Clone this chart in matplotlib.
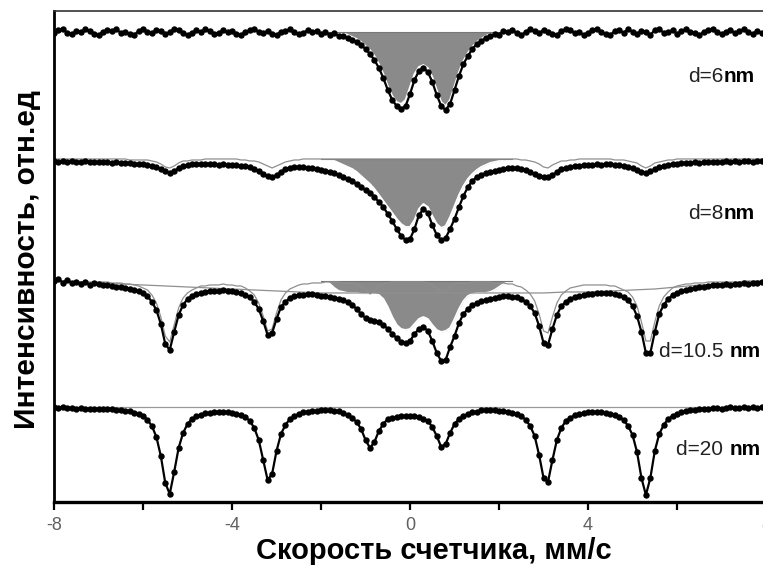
import matplotlib
matplotlib.use("Agg")
import matplotlib.pyplot as plt
import numpy as np

# Mössbauer spectra of nanoparticles, relative intensity (baseline = 1000)
vel = np.round(np.linspace(-8.0, 8.0, 161), 1)      # mm/s, channel velocities
vel_fill = np.round(np.linspace(-2.0, 2.3, 44), 1)  # range of the doublet component
vel_coarse = np.linspace(-8.0, 8.0, 33)

sizes = ['6', '8', '10.5', '20']
label_sep = ['', '', ' ', ' ']

# measured spectra (rows of 10 points: -8.0..-7.1, -7.0..-6.1, ...)
spec_6 = [
    999, 1002, 1003, 999, 998, 1001, 1000, 1003, 1001, 998,
    997, 1000, 1002, 1001, 1003, 999, 1000, 998, 997, 1001,
    1003, 1000, 999, 1002, 1001, 998, 1000, 1003, 1002, 999,
    997, 999, 1002, 1000, 1003, 1001, 998, 999, 1002, 1000,
    1001, 998, 997, 1000, 1002, 1003, 1000, 999, 1001, 998,
    997, 1000, 1001, 1003, 1000, 998, 999, 1002, 1000, 1001,
    998, 1000, 997, 999, 996, 996, 994, 992, 990, 987,
    983, 978, 972, 964, 954, 942, 932, 926, 923, 926,
    938, 952, 961, 964, 960, 950, 937, 926, 922, 928,
    942, 956, 968, 976, 983, 988, 991, 994, 996, 998,
    997, 1001, 1000, 1002, 999, 997, 1000, 1003, 1001, 999,
    1002, 1000, 998, 997, 1001, 1003, 1002, 999, 1000, 997,
    999, 1002, 1003, 1000, 998, 997, 1001, 1002, 999, 1003,
    1000, 998, 1001, 1000, 997, 1002, 1003, 999, 1000, 1002,
    998, 1001, 1003, 1000, 999, 997, 1000, 1002, 1003, 1000,
    998, 1000, 1002, 999, 1001, 1003, 1000, 998, 1001, 999, 1000,
]
spec_8 = [
    998, 997, 998, 997, 998, 997, 997, 998, 997, 997,
    997, 997, 997, 996, 997, 996, 996, 996, 995, 995,
    995, 994, 993, 992, 990, 988, 986, 988, 991, 993,
    994, 995, 995, 995, 995, 995, 995, 994, 995, 994,
    994, 994, 993, 993, 992, 990, 988, 985, 983, 982,
    984, 987, 990, 991, 992, 992, 992, 991, 991, 990,
    989, 988, 987, 986, 984, 982, 980, 978, 975, 972,
    969, 966, 962, 957, 952, 945, 938, 930, 923, 919,
    920, 930, 944, 950, 946, 934, 924, 919, 921, 930,
    940, 952, 963, 972, 978, 982, 984, 986, 987, 988,
    989, 990, 991, 991, 991, 990, 989, 987, 985, 983,
    982, 982, 984, 987, 990, 991, 992, 993, 993, 994,
    994, 994, 995, 994, 995, 995, 994, 994, 993, 992,
    991, 989, 987, 986, 988, 990, 992, 993, 994, 995,
    995, 996, 996, 996, 997, 996, 997, 997, 997, 997,
    997, 998, 997, 998, 997, 998, 998, 997, 998, 998, 998,
]
spec_105 = [
    1000, 1002, 998, 1001, 998, 999, 997, 999, 996, 998,
    997, 996, 996, 995, 994, 994, 993, 992, 991, 990,
    988, 985, 979, 971, 957, 937, 931, 949, 966, 976,
    982, 985, 987, 988, 989, 990, 990, 990, 991, 990,
    990, 989, 988, 986, 984, 979, 972, 960, 946, 948,
    962, 974, 979, 983, 985, 986, 986, 987, 987, 986,
    985, 985, 984, 983, 982, 981, 979, 976, 972, 967,
    963, 961, 960, 959, 956, 952, 947, 943, 939, 938,
    940, 947, 952, 954, 950, 940, 928, 920, 921, 934,
    945, 958, 967, 972, 976, 978, 980, 981, 982, 983,
    984, 985, 985, 984, 984, 982, 979, 975, 968, 955,
    938, 936, 952, 966, 975, 979, 982, 984, 985, 986,
    987, 987, 988, 988, 988, 988, 987, 986, 984, 981,
    975, 965, 949, 928, 928, 949, 967, 976, 982, 986,
    988, 990, 991, 992, 993, 994, 994, 995, 996, 996,
    996, 997, 996, 997, 997, 998, 997, 998, 998, 999, 998,
]
spec_20 = [
    1000, 999, 1000, 999, 999, 998, 999, 998, 998, 998,
    998, 998, 998, 998, 997, 997, 996, 996, 994, 993,
    991, 987, 981, 970, 951, 924, 913, 935, 959, 974,
    983, 988, 991, 992, 994, 994, 995, 995, 995, 995,
    994, 993, 992, 990, 986, 979, 967, 947, 927, 933,
    956, 973, 982, 988, 991, 993, 995, 995, 996, 996,
    997, 997, 997, 996, 996, 994, 992, 989, 985, 978,
    967, 959, 965, 976, 983, 988, 989, 990, 991, 991,
    991, 991, 990, 988, 986, 980, 971, 960, 963, 974,
    983, 988, 991, 993, 995, 995, 997, 997, 997, 997,
    996, 996, 995, 994, 993, 991, 987, 981, 971, 952,
    929, 925, 947, 967, 979, 986, 989, 992, 993, 994,
    995, 995, 995, 995, 994, 993, 992, 990, 987, 981,
    972, 955, 929, 912, 929, 956, 973, 982, 988, 991,
    993, 995, 996, 997, 997, 998, 998, 998, 999, 999,
    998, 999, 1000, 999, 999, 1000, 999, 1000, 999, 1000, 1000,
]

# paramagnetic doublet component (grey filled), on vel_fill
doublet_6 = [
    1000, 1000, 1000, 1000, 1000, 999, 997, 995, 993, 990,
    986, 982, 976, 968, 958, 946, 936, 930, 928, 932,
    945, 958, 965, 967, 964, 955, 942, 930, 926, 932,
    946, 960, 971, 979, 985, 990, 993, 996, 998, 1000,
    1000, 1000, 1000, 1000,
]
doublet_8 = [
    1000, 1000, 1000, 998, 996, 994, 992, 990, 987, 983,
    979, 975, 970, 964, 958, 952, 946, 940, 935, 932,
    932, 939, 950, 955, 952, 943, 935, 931, 933, 942,
    953, 964, 973, 980, 985, 989, 992, 994, 996, 997,
    998, 999, 1000, 1000,
]
doublet_105 = [
    1000, 1000, 997, 993, 990, 989, 988, 988, 988, 987,
    987, 987, 987, 986, 982, 974, 964, 956, 952, 951,
    952, 957, 962, 964, 962, 956, 951, 949, 950, 953,
    962, 972, 980, 985, 987, 988, 988, 988, 989, 991,
    994, 997, 999, 1000,
]

# magnetic sextet components (thin grey lines), on vel
sextet_8 = [
    1000, 1000, 1000, 1000, 1000, 1000, 1000, 1000, 1000, 1000,
    1000, 1000, 1000, 1000, 1000, 1000, 1000, 999, 999, 999,
    999, 999, 998, 997, 995, 992, 991, 993, 996, 998,
    998, 999, 999, 999, 1000, 1000, 1000, 1000, 1000, 1000,
    1000, 1000, 999, 999, 998, 998, 997, 995, 993, 991,
    993, 995, 997, 998, 999, 999, 1000, 1000, 1000, 1000,
    1000, 1000, 1000, 1000, 1000, 1000, 1000, 1000, 1000, 1000,
    1000, 1000, 1000, 1000, 1000, 1000, 1000, 1000, 1000, 1000,
    1000, 1000, 1000, 1000, 1000, 1000, 1000, 1000, 1000, 1000,
    1000, 1000, 1000, 1000, 1000, 1000, 1000, 1000, 1000, 1000,
    1000, 1000, 1000, 1000, 1000, 999, 999, 998, 997, 995,
    992, 991, 994, 996, 998, 998, 999, 999, 1000, 1000,
    1000, 1000, 1000, 1000, 1000, 1000, 999, 999, 999, 998,
    997, 996, 993, 991, 993, 996, 997, 998, 999, 999,
    1000, 1000, 1000, 1000, 1000, 1000, 1000, 1000, 1000, 1000,
    1000, 1000, 1000, 1000, 1000, 1000, 1000, 1000, 1000, 1000, 1000,
]
sextet_105 = [
    1000, 1000, 1000, 999, 999, 999, 999, 999, 999, 999,
    999, 999, 999, 998, 998, 998, 997, 997, 996, 995,
    993, 991, 986, 978, 964, 945, 939, 956, 973, 983,
    988, 991, 993, 995, 995, 996, 996, 996, 997, 996,
    996, 995, 995, 993, 990, 986, 978, 965, 950, 952,
    968, 981, 988, 992, 994, 996, 997, 997, 998, 998,
    998, 999, 999, 999, 999, 998, 998, 998, 997, 995,
    992, 987, 990, 995, 997, 998, 999, 999, 999, 999,
    999, 999, 999, 999, 998, 996, 993, 988, 989, 994,
    997, 998, 998, 998, 999, 999, 999, 999, 999, 998,
    998, 998, 997, 997, 995, 994, 991, 987, 980, 967,
    950, 948, 964, 978, 986, 990, 993, 994, 995, 996,
    996, 996, 996, 996, 996, 995, 995, 993, 991, 989,
    984, 975, 959, 940, 940, 959, 975, 984, 989, 993,
    995, 996, 997, 997, 998, 998, 998, 999, 999, 999,
    999, 999, 999, 999, 999, 1000, 1000, 1000, 1000, 1000, 1000,
]
# broad (relaxing) component of the 10.5 nm sample, on vel_coarse
broad_105 = [
    1000, 999, 998, 997, 996, 995, 994, 993, 992, 991, 990,
    989, 988, 988, 988, 988, 988, 988, 988, 988, 988, 988,
    988, 989, 989, 990, 991, 992, 994, 996, 997, 999, 1000,
]

spectra = [spec_6, spec_8, spec_105, spec_20]
doublets = [doublet_6, doublet_8, doublet_105, None]
sextets = [None, sextet_8, sextet_105, None]
BASE = 1000

# vertical stacking of the spectra (in plot units)
offsets = [470, 343, 221, 95]
label_y = [425, 288, 150, 52]
label_x = [7.75, 7.75, 7.87, 7.87]

narrow = ['Liberation Sans Narrow', 'Liberation Sans', 'DejaVu Sans']
regular = ['Liberation Sans', 'DejaVu Sans']

fig = plt.figure(figsize=(7.63, 5.69), dpi=100)
ax = fig.add_axes([0.0708, 0.1178, 0.9332, 0.8629])

for i in range(4):
    off = offsets[i] - BASE
    y = np.array(spectra[i]) + off
    if doublets[i] is not None:
        yd = np.array(doublets[i]) + off
        ax.fill_between(vel_fill, yd, BASE + off, color='#8a8a8a', lw=0, zorder=1)
        ax.plot(vel_fill, yd, color='white', lw=1.3, zorder=2)
        ax.plot(vel_fill, np.full(len(vel_fill), BASE + off), color='#777777', lw=0.8, zorder=2)
    if sextets[i] is not None:
        ax.plot(vel, np.array(sextets[i]) + off, color='#8f8f8f', lw=0.9, zorder=2)
    if i == 2:
        ax.plot(vel_coarse, np.array(broad_105) + off, color='#8f8f8f', lw=0.9, zorder=2)
    if i == 3:
        ax.plot(vel, np.full(len(vel), BASE + off), color='#999999', lw=0.9, zorder=2)
    ax.plot(vel, y, color='black', lw=1.6, marker='o', ms=4.6, mew=0, zorder=3)

    t = ax.text(label_x[i], label_y[i], 'nm', ha='right', va='center',
                fontsize=15, fontweight='bold', family=regular, color='black')
    ax.annotate('d=' + sizes[i] + label_sep[i], xy=(0, 0), xycoords=t,
                ha='right', va='bottom', fontsize=15, family=regular, color='#222222')

ax.set_xlim(-8, 8)
ax.set_ylim(0, 491)
ax.set_yticks([])
ax.set_xticks([-8, -4, 0, 4, 8])
ax.set_xticks([-6, -2, 2, 6], minor=True)
ax.set_xticklabels(['-8', '-4', '0', '4', '8'], family=narrow, fontsize=13, color='#606060')
ax.tick_params(axis='x', which='both', direction='out', length=6, width=1.6, pad=5)

ax.spines['right'].set_visible(False)
ax.spines['left'].set_linewidth(2.0)
ax.spines['bottom'].set_linewidth(2.4)
ax.spines['top'].set_linewidth(1.2)
ax.spines['top'].set_color('#333333')

ax.set_xlabel('Скорость счетчика, мм/с', family=narrow, fontsize=21, fontweight='bold')
ax.xaxis.set_label_coords(0.534, -0.1)
ax.xaxis.label.set_va('center')
ax.set_ylabel('Интенсивность, отн.ед', family=narrow, fontsize=21.5, fontweight='bold')
ax.yaxis.set_label_coords(-0.038, 0.493)
ax.yaxis.label.set_va('center')

fig.savefig('out.png', dpi=100)
